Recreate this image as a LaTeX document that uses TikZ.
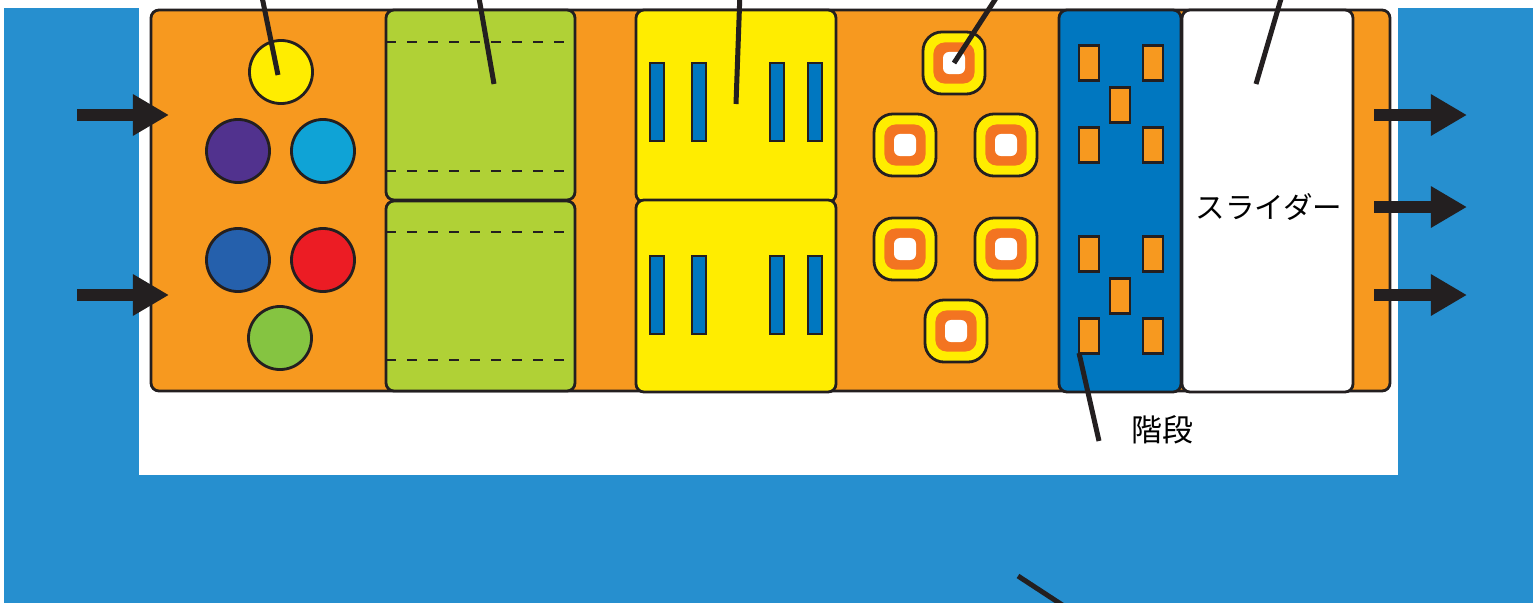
\documentclass[tikz,border=0pt]{standalone}
\usepackage{fontspec}
\newfontfamily\jpfont{Noto Sans CJK JP}
\usetikzlibrary{arrows.meta,positioning}
\definecolor{seablue}{HTML}{268FCF}
\definecolor{deckorange}{HTML}{F7991F}
\definecolor{padgreen}{HTML}{B0D136}
\definecolor{padyellow}{HTML}{FFED00}
\definecolor{barblue}{HTML}{0077C0}
\definecolor{ringorange}{HTML}{F37421}
\definecolor{ballpurple}{HTML}{51328E}
\definecolor{ballcyan}{HTML}{0FA3D6}
\definecolor{ballblue}{HTML}{2560AC}
\definecolor{ballred}{HTML}{EC1C24}
\definecolor{ballgreen}{HTML}{85C441}
\definecolor{inkk}{HTML}{231F20}
\begin{document}
\begin{tikzpicture}[x=0.01cm,y=-0.01cm,font=\jpfont,
  edge/.style={draw=inkk,line width=0.028cm},
  leader/.style={draw=inkk,line width=0.05cm},
  bigarrow/.style={draw=inkk,line width=0.12cm,-{Triangle[length=0.36cm,width=0.39cm]}},
  ball/.style={circle,edge,minimum size=0.63cm,inner sep=0pt},
  ringout/.style={rectangle,edge,fill=padyellow,rounded corners=0.19cm,minimum size=0.62cm,inner sep=0pt},
  ringmid/.style={rectangle,fill=ringorange,rounded corners=0.11cm,minimum size=0.41cm,inner sep=0pt},
  ringin/.style={rectangle,fill=white,rounded corners=0.06cm,minimum size=0.22cm,inner sep=0pt},
  stepblock/.style={rectangle,edge,fill=deckorange,minimum width=0.2cm,minimum height=0.35cm,inner sep=0pt}]
\path[use as bounding box] (0,0) rectangle (1539,603);
\fill[seablue] (4,8) rectangle (1533,603);
\fill[white] (139,0) rectangle (1398,475);
\draw[edge,fill=deckorange,rounded corners=0.08cm] (151,10) rectangle (1390,391);
\foreach \nm/\cx/\cy/\col in {yel/281/72/padyellow,pur/238/151/ballpurple,cya/323/151/ballcyan,
    blu/238/260/ballblue,red/323/260/ballred,grn/280/338/ballgreen}
  \node[ball,fill=\col] (ball\nm) at (\cx,\cy) {};
\foreach \gy/\dya/\dyb in {10/42/171,201/232/360} {
  \draw[edge,fill=padgreen,rounded corners=0.08cm] (386,\gy) rectangle (575,\gy+190);
  \draw[inkk,line width=0.026cm,dash pattern=on 0.1cm off 0.11cm] (386,\dya) -- (575,\dya) (386,\dyb) -- (575,\dyb);
}
\foreach \gy/\by in {10/102,200/295} {
  \draw[edge,fill=padyellow,rounded corners=0.08cm] (636,\gy) rectangle (836,\gy+192);
  \foreach \bx in {657,699,777,815}
    \draw[edge,fill=barblue] (\bx-7,\by-39) rectangle (\bx+7,\by+39);
}
\foreach \nm/\rx/\ry in {a/954/63,b/905/145,c/1006/145,d/905/249,e/1006/249,f/956/331} {
  \node[ringout] (ring\nm) at (\rx,\ry) {};
  \node[ringmid] at (ring\nm.center) {};
  \node[ringin] at (ring\nm.center) {};
}
\draw[edge,fill=barblue,rounded corners=0.08cm] (1059,10) rectangle (1181,392);
\foreach \sx/\sy in {1089/63,1153/63,1120/105,1089/145,1153/145,1089/254,1153/254,1120/296,1089/336,1153/336}
  \node[stepblock] at (\sx,\sy) {};
\draw[edge,fill=white,rounded corners=0.08cm] (1182,10) rectangle (1353,392);
\node[font=\jpfont\fontsize{8.4pt}{10pt}\selectfont] (slider) at (1269,207) {スライダー};
\node[font=\jpfont\fontsize{8.8pt}{10pt}\selectfont] (stairs) at (1162,430) {階段};
\foreach \ay in {115,295}
  \draw[bigarrow] (77,\ay) -- (169,\ay);
\foreach \ay in {115,207,295}
  \draw[bigarrow] (1374,\ay) -- (1467,\ay);
\draw[leader] (ballyel.center)++(-3,3) -- (261,-8);
\draw[leader] (494,84) -- (478,-8);
\draw[leader] (736,104) -- (740,-8);
\draw[leader] (ringa.center) -- (1000,-8);
\draw[leader] (1256,84) -- (1283,-8);
\draw[leader] (1079,353) -- (1099,441);
\draw[leader] (1018,576) -- (1070,610);
\end{tikzpicture}
\end{document}
